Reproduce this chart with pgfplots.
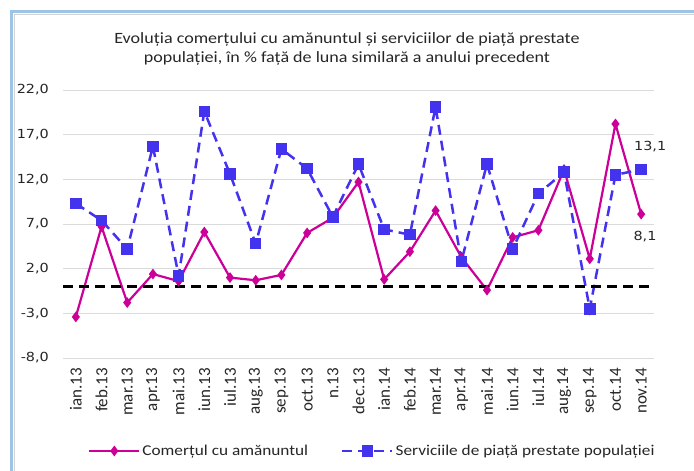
\documentclass[border=0pt]{standalone}
\usepackage{fontspec}
\usepackage{pgfplots}
\pgfplotsset{compat=1.18}
\setmainfont{Carlito}[FakeStretch=1.15]
\newfontfamily\titlefont{Carlito}[FakeStretch=1.15]
\newfontfamily\xfont{Carlito}
\newfontfamily\tickfont{DejaVu Sans}[FakeStretch=1.15]
\definecolor{mag}{RGB}{204,0,153}
\definecolor{blu}{RGB}{68,51,238}
\definecolor{frameblue}{RGB}{157,195,230}
\definecolor{txt}{RGB}{38,38,38}
\begin{document}
\begin{tikzpicture}[x=1pt,y=1pt]
\path[use as bounding box] (0,0) rectangle (694,471);
\draw[frameblue, line width=3.5pt] (11.5,0) -- (11.5,459.5) -- (694,459.5);
\draw[gray!35, line width=1.2pt] (14.5,0) -- (14.5,456.5) -- (694,456.5);
\node[font=\titlefont\fontsize{15.7}{18.5}\selectfont, text=txt, align=center] at (347,422)
  {Evoluția comerțului cu amănuntul și serviciilor de piață prestate\\populației, în \% față de luna similară a anului precedent};
\begin{axis}[
  scale only axis, width=591pt, height=268pt,
  at={(63pt,113pt)}, anchor=south west,
  xmin=-0.5, xmax=22.5, ymin=-8, ymax=22,
  xtick={0,...,22},
  xticklabels={ian.13,feb.13,mar.13,apr.13,mai.13,iun.13,iul.13,aug.13,sep.13,oct.13,n.13,dec.13,ian.14,feb.14,mar.14,apr.14,mai.14,iun.14,iul.14,aug.14,sep.14,oct.14,nov.14},
  ytick={-8,-3,2,7,12,17,22},
  yticklabel={\pgfmathprintnumber[fixed,fixed zerofill,precision=1,use comma,assume math mode=true]{\tick}},
  ymajorgrids, grid style={draw=gray!28, line width=0.9pt},
  axis line style={draw=none}, major tick length=0pt,
  x tick label style={font=\xfont\fontsize{17}{17}\selectfont, text=txt, rotate=90, anchor=east, inner sep=0pt},
  y tick label style={font=\tickfont\fontsize{12.5}{12.5}\selectfont, text=txt, anchor=east, inner sep=0pt},
  xticklabel shift=10pt, yticklabel shift=14pt,
  clip=false,
  legend columns=2,
  legend style={draw=none, fill=none, at={(axis description cs:0.0423,-0.347)}, anchor=west,
    font=\fontsize{15}{15}\selectfont, text=txt, inner sep=0pt,
    nodes={inner sep=2pt},
    /tikz/every even column/.append style={column sep=31pt}},
  legend image code/.code={\draw[mark repeat=2,mark phase=2,#1] plot coordinates {(0pt,0pt) (25pt,0pt) (50pt,0pt)};},
]
\addplot[mag, line width=2.2pt, mark=diamond*, mark size=3.6pt, mark options={solid}] coordinates {
(0,-3.4) (1,6.7) (2,-1.8) (3,1.4) (4,0.6) (5,6.1) (6,1.0) (7,0.7) (8,1.3) (9,6.0) (10,7.7) (11,11.7)
(12,0.8) (13,3.9) (14,8.5) (15,3.3) (16,-0.4) (17,5.5) (18,6.3) (19,13.1) (20,3.1) (21,18.2) (22,8.1)};
\addlegendentry{Comerțul cu amănuntul}
\addplot[blu, line width=2.5pt, dash pattern=on 10pt off 6pt, mark=square*, mark size=4.5pt, mark options={solid}] coordinates {
(0,9.3) (1,7.4) (2,4.2) (3,15.7) (4,1.2) (5,19.6) (6,12.6) (7,4.8) (8,15.4) (9,13.2) (10,7.8) (11,13.7)
(12,6.4) (13,5.8) (14,20.1) (15,2.8) (16,13.7) (17,4.2) (18,10.4) (19,12.8) (20,-2.5) (21,12.5) (22,13.1)};
\addlegendentry{Serviciile de piață prestate populației}
\addplot[black, line width=2.2pt, dash pattern=on 10pt off 6pt, forget plot] coordinates {(-0.5,0) (22.5,0)};
\node[font=\tickfont\fontsize{12.5}{12.5}\selectfont, text=txt] at (axis cs:22.35,15.7) {13,1};
\node[font=\tickfont\fontsize{12.5}{12.5}\selectfont, text=txt] at (axis cs:22.15,5.6) {8,1};
\end{axis}
\end{tikzpicture}
\end{document}
